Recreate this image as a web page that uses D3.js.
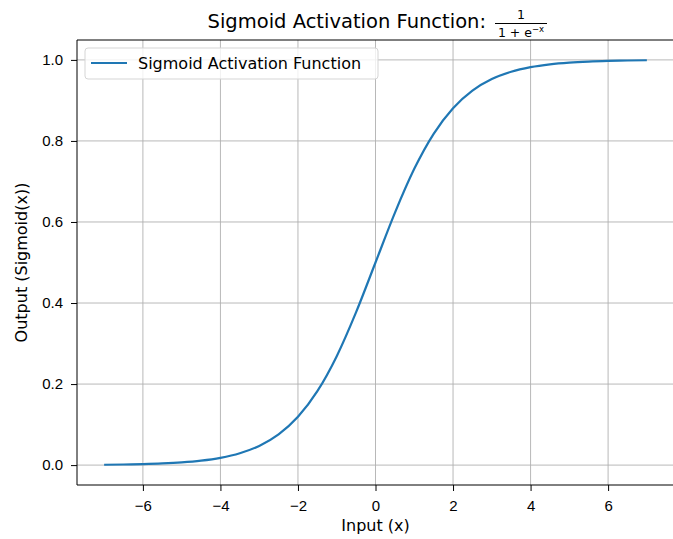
<!DOCTYPE html>
<html>
<head>
<meta charset="utf-8">
<script src="https://cdn.jsdelivr.net/npm/d3@7"></script>
<style>
  body { margin: 0; background: #fff; }
  svg { font-family: "DejaVu Sans", sans-serif; }
  .grid line { stroke: #b0b0b0; stroke-width: 0.9; }
  .axis path, .axis line { stroke: #000; stroke-width: 1; }
  .axis text { font-size: 15px; fill: #000; }
</style>
</head>
<body>
<div id="canvas"></div>
<script>
// values
var xs = [-7, -6.5, -6, -5.5, -5, -4.5, -4, -3.5, -3, -2.5, -2, -1.5, -1, -0.5, 0,
          0.5, 1, 1.5, 2, 2.5, 3, 3.5, 4, 4.5, 5, 5.5, 6, 6.5, 7];
var ys = [0.0009, 0.0015, 0.0025, 0.0041, 0.0067, 0.011, 0.018, 0.0293, 0.0474, 0.0759,
          0.1192, 0.1824, 0.2689, 0.3775, 0.5, 0.6225, 0.7311, 0.8176, 0.8808, 0.9241,
          0.9526, 0.9707, 0.982, 0.989, 0.9933, 0.9959, 0.9975, 0.9985, 0.9991];
var xTicks = [-6, -4, -2, 0, 2, 4, 6];
var yTicks = [0.0, 0.2, 0.4, 0.6, 0.8, 1.0];
var seriesName = 'Sigmoid Activation Function';

var outerWidth = 673, outerHeight = 539;
var m = {t:40, r:-1, b:54, l:77};
var w = outerWidth - m.l - m.r,
    h = outerHeight - m.t - m.b;

var svg = d3.select('#canvas').append('svg')
    .attr('width', outerWidth)
    .attr('height', outerHeight);

var plot = svg.append('g')
    .attr('transform', 'translate(' + m.l + ',' + m.t + ')');

var scaleX = d3.scaleLinear().domain([-7.7, 7.7]).range([0, w]);
var scaleY = d3.scaleLinear().domain([-0.0491, 1.0491]).range([h, 0]);

var fmtX = function(d){ return d < 0 ? '\u2212' + Math.abs(d) : '' + d; };

// grid
plot.append('g').attr('class', 'grid')
    .selectAll('line').data(xTicks).enter().append('line')
    .attr('x1', function(d){ return scaleX(d); })
    .attr('x2', function(d){ return scaleX(d); })
    .attr('y1', 0).attr('y2', h);
plot.append('g').attr('class', 'grid')
    .selectAll('line').data(yTicks).enter().append('line')
    .attr('y1', function(d){ return scaleY(d); })
    .attr('y2', function(d){ return scaleY(d); })
    .attr('x1', 0).attr('x2', w);

// line
var data = xs.map(function(x, i){ return {x: x, y: ys[i]}; });
var line = d3.line()
    .x(function(d){ return scaleX(d.x); })
    .y(function(d){ return scaleY(d.y); })
    .curve(d3.curveMonotoneX);
plot.append('path')
    .datum(data)
    .attr('d', line)
    .attr('fill', 'none')
    .attr('stroke', '#1f77b4')
    .attr('stroke-width', 2.2);

// axes
var axisX = d3.axisBottom(scaleX).tickValues(xTicks).tickFormat(fmtX).tickSize(6).tickPadding(9);
plot.append('g').attr('class', 'axis axis-x')
    .attr('transform', 'translate(0,' + h + ')')
    .call(axisX)
    .select('.domain').attr('d', 'M0,0H' + w);

var axisY = d3.axisLeft(scaleY).tickValues(yTicks).tickFormat(d3.format('.1f')).tickSize(6).tickPadding(8);
plot.append('g').attr('class', 'axis axis-y')
    .call(axisY)
    .select('.domain').attr('d', 'M0,0V' + h);

// top and right spines
plot.append('line').attr('x1', 0).attr('x2', w).attr('y1', 0).attr('y2', 0)
    .attr('stroke', '#000').attr('stroke-width', 1);
plot.append('line').attr('x1', w).attr('x2', w).attr('y1', 0).attr('y2', h)
    .attr('stroke', '#000').attr('stroke-width', 1);

// axis labels
svg.append('text')
    .attr('x', m.l + scaleX(0))
    .attr('y', 531)
    .attr('text-anchor', 'middle')
    .style('font-size', '16px')
    .text('Input (x)');
svg.append('text')
    .attr('transform', 'translate(27,' + (m.t + h/2) + ') rotate(-90)')
    .attr('text-anchor', 'middle')
    .style('font-size', '16px')
    .text('Output (Sigmoid(x))');

// title with fraction
var title = svg.append('g');
title.append('text')
    .attr('x', 486)
    .attr('y', 28)
    .attr('text-anchor', 'end')
    .style('font-size', '19.5px')
    .text('Sigmoid Activation Function:');
var fx = 521;
title.append('text')
    .attr('x', fx).attr('y', 19)
    .attr('text-anchor', 'middle')
    .style('font-size', '12.5px')
    .text('1');
title.append('line')
    .attr('x1', fx - 26).attr('x2', fx + 26)
    .attr('y1', 23.5).attr('y2', 23.5)
    .attr('stroke', '#000').attr('stroke-width', 1);
var den = title.append('text')
    .attr('x', fx).attr('y', 37)
    .attr('text-anchor', 'middle')
    .style('font-size', '12.5px');
den.append('tspan').text('1 + e');
den.append('tspan').attr('dy', -5).style('font-size', '8.5px').text('\u2212x');

// legend
var lg = plot.append('g').attr('transform', 'translate(8,8)');
lg.append('rect')
    .attr('width', 293).attr('height', 31)
    .attr('rx', 3)
    .attr('fill', '#fff').attr('fill-opacity', 0.8)
    .attr('stroke', '#d5d5d5').attr('stroke-width', 1);
lg.append('line')
    .attr('x1', 6).attr('x2', 42)
    .attr('y1', 15).attr('y2', 15)
    .attr('stroke', '#1f77b4').attr('stroke-width', 2.2);
lg.append('text')
    .attr('x', 53).attr('y', 21)
    .style('font-size', '16px')
    .text(seriesName);
</script>
</body>
</html>
